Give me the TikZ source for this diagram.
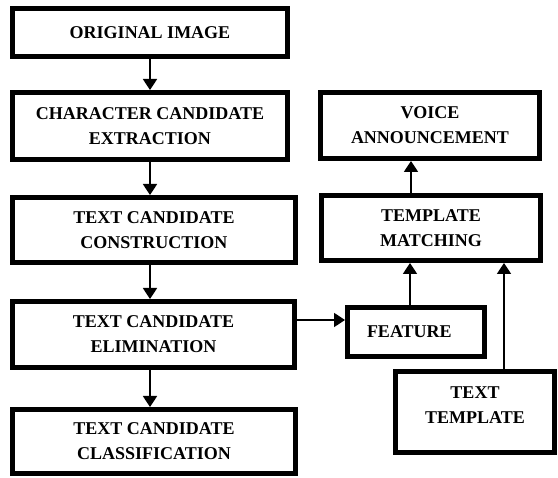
\documentclass[tikz,border=0pt]{standalone}
\usepackage{fontspec}
\setmainfont{Liberation Serif}
\usetikzlibrary{arrows.meta}

\tikzset{
  blk/.style={draw, rectangle, line width=5pt, inner sep=0pt, align=center,
    font=\fontsize{18}{25}\selectfont\bfseries},
  arr/.style={-{Triangle[length=11pt,width=14pt]}, line width=1.8pt},
}

\begin{document}
\begin{tikzpicture}[x=1pt, y=-1pt]
    \useasboundingbox (0,0) rectangle (558,478);

    % left column
    \node (orig) [blk, minimum width=275pt, minimum height=48pt] at (150,32.5) {ORIGINAL IMAGE};
    \node (extr) [blk, minimum width=275pt, minimum height=67pt] at (150,126) {CHARACTER CANDIDATE\\EXTRACTION};
    \node (constr) [blk, minimum width=283pt, minimum height=65pt] at (154,230) {TEXT CANDIDATE\\CONSTRUCTION};
    \node (elim) [blk, minimum width=282pt, minimum height=66pt] at (153.5,334.5) {TEXT CANDIDATE\\ELIMINATION};
    \node (classif) [blk, minimum width=283pt, minimum height=64pt] at (154,441.5) {TEXT CANDIDATE\\CLASSIFICATION};

    % right side
    \node (voice) [blk, minimum width=219pt, minimum height=66pt] at (430,125.5) {VOICE\\ANNOUNCEMENT};
    \node (match) [blk, minimum width=219pt, minimum height=65pt] at (431,228) {TEMPLATE\\MATCHING};
    \node (feat) [blk, align=left, text width=98pt, inner xsep=19.5pt, minimum height=49pt] at (416,332) {FEATURE};
    \node (tmpl) [blk, minimum width=159pt, minimum height=81pt] at (475,412) {};
    \node (tmpltext) [blk, draw=none] at (475,405) {TEXT\\TEMPLATE};

    \draw[arr] (orig.south) -- (extr.north);
    \draw[arr] (extr.south) -- (extr.south |- constr.north);
    \draw[arr] (constr.south -| extr.south) -- (extr.south |- elim.north);
    \draw[arr] (elim.south -| extr.south) -- (extr.south |- classif.north);

    \draw[arr] ([yshift=14.5pt]elim.east) -- ([yshift=14.5pt]elim.east -| feat.west);
    \draw[arr] ([xshift=-6pt]feat.north) -- ([xshift=-6pt]feat.north |- match.south);
    \draw[arr] ([xshift=29pt]tmpl.north) -- ([xshift=29pt]tmpl.north |- match.south);
    \draw[arr] ([xshift=-20pt]match.north) -- ([xshift=-20pt]match.north |- voice.south);
\end{tikzpicture}
\end{document}
